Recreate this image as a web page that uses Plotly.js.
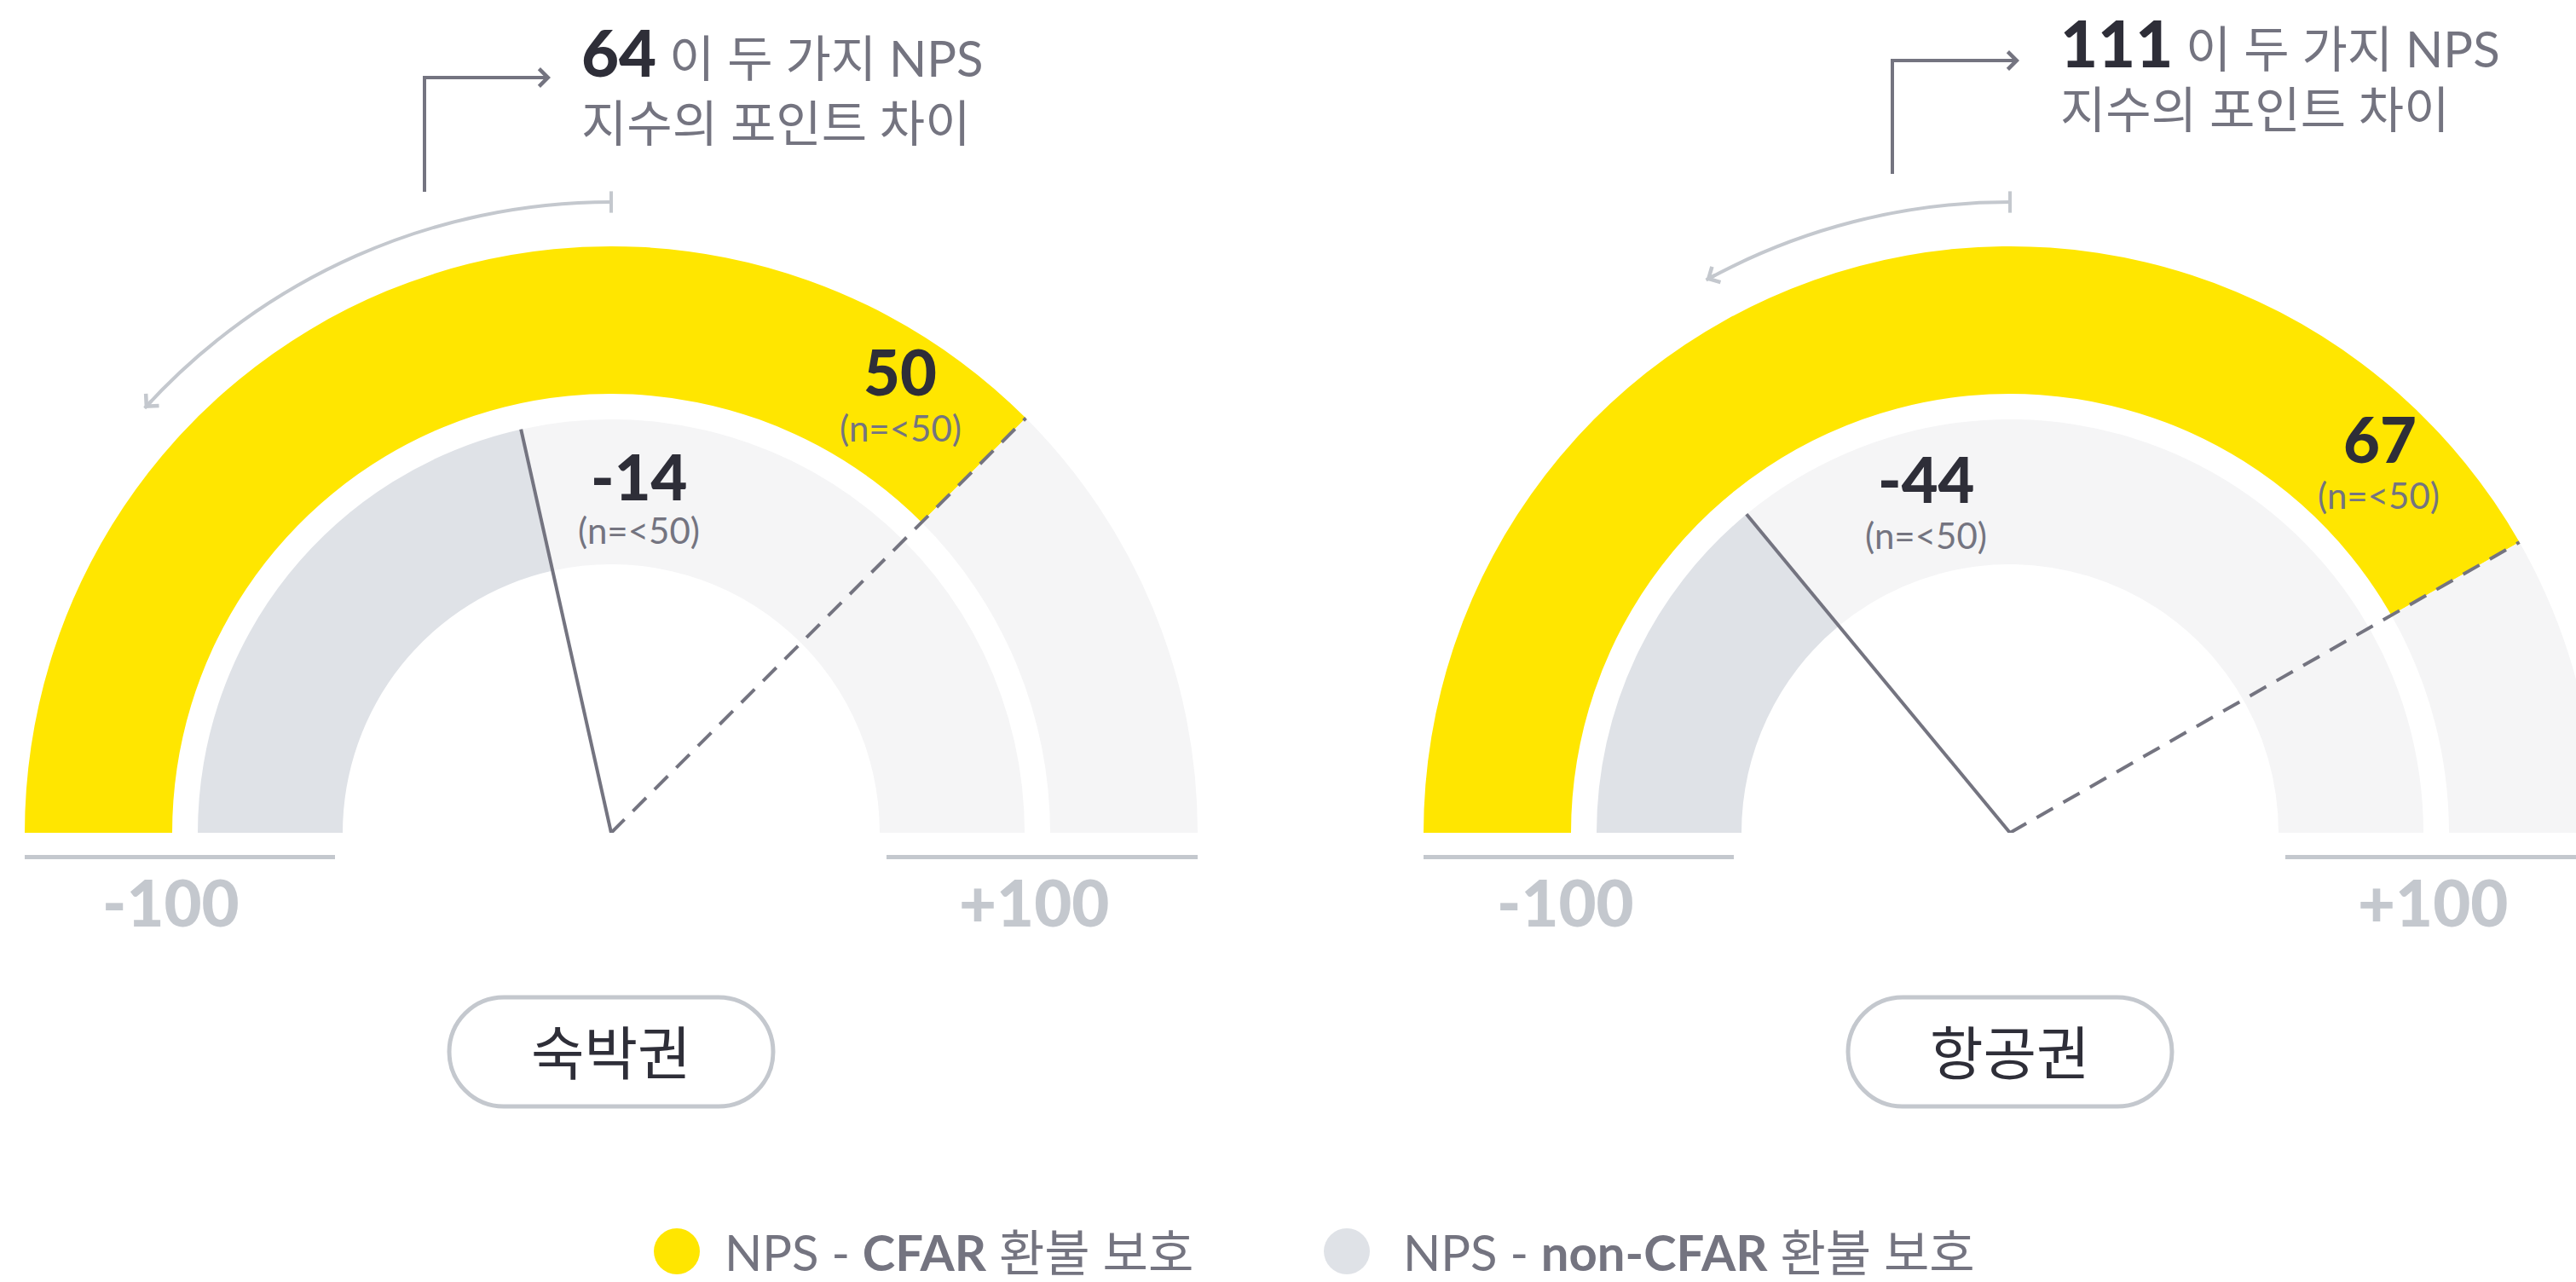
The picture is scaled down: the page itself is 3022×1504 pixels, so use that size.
<!DOCTYPE html>
<html>
<head>
<meta charset="utf-8">
<script src="https://cdn.plot.ly/plotly-3.0.1.min.js"></script>
<style>
  html, body { margin:0; padding:0; overflow:hidden; background:#ffffff; width:3022px; height:1504px; }
  #chart { position:absolute; left:-80px; top:0; width:3210px; height:1504px; }
</style>
</head>
<body>
<div id="chart"></div>
<script>
// ---------------- data ----------------
const categories = ['숙박권', '항공권'];
const npsCfar = [50, 67];            // NPS - CFAR 환불 보호
const npsNonCfar = [-14, -44];       // NPS - non-CFAR 환불 보호
const pointGap = [64, 111];          // 두 NPS 지수의 포인트 차이
const noteCfar = ['(n=<50)', '(n=<50)'];
const noteNonCfar = ['(n=<50)', '(n=<50)'];
const gapArcEnd = [-53, -32];        // end of the decorative gap arrow on the NPS scale
const scaleRange = [-100, 100];
const scaleTickLabels = ['-100', '+100'];
const seriesNames = ['NPS - <b>CFAR</b> 환불 보호', 'NPS - <b>non-CFAR</b> 환불 보호'];
const gapTextLines = ['이 두 가지 NPS', '지수의 포인트 차이'];

// ---------------- styles / geometry ----------------
const W = 3210, H = 1504, OFFX = 80;
const px = x => (x + OFFX) / W;
const py = y => 1 - y / H;
const R = 760;                 // radial axis range in px
const CX = [717, 2358], CY = 977;
const OUT = [515, 688], INN = [315, 485], ARC_R = 740;
const C = {
  yellow: '#FFE600', dark: '#DFE2E7', light: '#F5F5F6',
  tick: '#C4C8CE', txt: '#2E2E38', gray: '#747480'
};
const FONT = 'Lato, "Noto Sans CJK KR", "Noto Sans", sans-serif';
const esc = s => s.replace(/</g, '&lt;');
const deg = v => (v - scaleRange[0]) / (scaleRange[1] - scaleRange[0]) * 180;

const POS = [
  {elbowX: 498, elbowBottom: 225, elbowTop: 91, tipX: 646, textX: 680, line1Y: 61, line2Y: 144,
   labelOuter: [1056, 435], noteOuter: [1056, 502], labelInner: [750, 558], noteInner: [750, 622],
   tickX: [200, 1213]},
  {elbowX: 2220, elbowBottom: 204, elbowTop: 71, tipX: 2369, textX: 2415, line1Y: 50, line2Y: 127,
   labelOuter: [2792, 514], noteOuter: [2790, 581], labelInner: [2259, 561], noteInner: [2259, 628],
   tickX: [1836, 2854]}
];

const traces = [];
const annotations = [];
const shapes = [];
const layout = {
  width: W, height: H,
  margin: {l: 0, r: 0, t: 0, b: 0},
  paper_bgcolor: '#ffffff', plot_bgcolor: '#ffffff',
  showlegend: false, hovermode: false,
  font: {family: FONT, color: C.gray}
};

categories.forEach((cat, i) => {
  const sp = i === 0 ? 'polar' : 'polar2';
  const cx = CX[i];
  const lo = scaleRange[0], hi = scaleRange[1];
  layout[sp] = {
    domain: {x: [px(cx - R), px(cx + R)], y: [py(CY), py(CY - R)]},
    sector: [0, 180], hole: 0, bgcolor: 'rgba(0,0,0,0)', barmode: 'overlay',
    radialaxis: {visible: false, range: [0, R], showgrid: false, showline: false, showticklabels: false, ticks: ''},
    angularaxis: {visible: false, rotation: 180, direction: 'clockwise', thetaunit: 'degrees',
                  showgrid: false, showline: false, showticklabels: false, ticks: ''}
  };
  const segO = [[lo, npsCfar[i]], [npsCfar[i], hi]];
  const segI = [[lo, npsNonCfar[i]], [npsNonCfar[i], hi]];
  const mk = (segs, rr, colors) => ({
    type: 'barpolar', subplot: sp,
    theta: segs.map(s => deg((s[0] + s[1]) / 2)),
    width: segs.map(s => Math.abs(deg(s[1]) - deg(s[0]))),
    base: segs.map(() => rr[0]), r: segs.map(() => rr[1] - rr[0]),
    marker: {color: colors, line: {width: 0}}, hoverinfo: 'skip'
  });
  traces.push(mk(segO, OUT, [C.yellow, C.light]));
  traces.push(mk(segI, INN, [C.dark, C.light]));
  // gap arc
  traces.push(mk([[gapArcEnd[i], 0]], [ARC_R - 2, ARC_R + 2], [C.tick]));
  // arc start tick
  traces.push({type: 'scatterpolar', subplot: sp, mode: 'markers', r: [ARC_R], theta: [deg(0)],
    marker: {symbol: 'line-ns', size: 18, line: {width: 4, color: C.tick}}, cliponaxis: false, hoverinfo: 'skip'});
  // needle (non-CFAR)
  traces.push({type: 'scatterpolar', subplot: sp, mode: 'lines',
    r: [INN[1], 0], theta: [deg(npsNonCfar[i]), deg(npsNonCfar[i])],
    line: {color: C.gray, width: 4}, hoverinfo: 'skip'});
  // dashed (CFAR)
  traces.push({type: 'scatterpolar', subplot: sp, mode: 'lines',
    r: [0, OUT[1]], theta: [deg(npsCfar[i]), deg(npsCfar[i])],
    line: {color: C.gray, width: 4, dash: '22px,14px'}, hoverinfo: 'skip'});

  // arc arrowhead (computed from the arc end value)
  const phi = (180 - deg(gapArcEnd[i])) * Math.PI / 180;
  const ex = cx + ARC_R * Math.cos(phi), ey = CY - ARC_R * Math.sin(phi);
  annotations.push({xref: 'paper', yref: 'paper', x: px(ex), y: py(ey), text: '', showarrow: true,
    ax: Math.sin(phi) * 14, ay: Math.cos(phi) * 14, arrowhead: 4, arrowsize: 1, arrowwidth: 4,
    arrowcolor: C.tick, standoff: 0, startstandoff: 0});

  const p = POS[i];
  // elbow arrow
  shapes.push({type: 'line', xref: 'paper', yref: 'paper', x0: px(p.elbowX), x1: px(p.elbowX),
    y0: py(p.elbowBottom), y1: py(p.elbowTop - 2), line: {color: C.gray, width: 4}});
  annotations.push({xref: 'paper', yref: 'paper', x: px(p.tipX), y: py(p.elbowTop), text: '', showarrow: true,
    ax: p.elbowX - p.tipX, ay: 0, arrowhead: 4, arrowsize: 1, arrowwidth: 4, arrowcolor: C.gray,
    standoff: 0, startstandoff: 0});
  // gap text
  annotations.push({xref: 'paper', yref: 'paper', x: px(p.textX), y: py(p.line1Y), xanchor: 'left', yanchor: 'middle',
    showarrow: false, align: 'left',
    text: `<span style="font-size:76px;font-weight:900;color:${C.txt}">${pointGap[i]}</span> ${gapTextLines[0]}`,
    font: {family: FONT, size: 58, color: C.gray}});
  annotations.push({xref: 'paper', yref: 'paper', x: px(p.textX), y: py(p.line2Y), xanchor: 'left', yanchor: 'middle',
    showarrow: false, align: 'left', text: gapTextLines[1],
    font: {family: FONT, size: 58, color: C.gray}});

  // value labels
  const lab = (xy, text, size, color, weight) => annotations.push({xref: 'paper', yref: 'paper',
    x: px(xy[0]), y: py(xy[1]), xanchor: 'center', yanchor: 'middle', showarrow: false,
    text: text, font: {family: FONT, size: size, color: color, weight: weight}});
  lab(p.labelOuter, String(npsCfar[i]), 74, C.txt, 900);
  lab(p.noteOuter, esc(noteCfar[i]), 42, C.gray, 400);
  lab(p.labelInner, String(npsNonCfar[i]), 74, C.txt, 900);
  lab(p.noteInner, esc(noteNonCfar[i]), 42, C.gray, 400);

  // scale ends: baselines + labels
  shapes.push({type: 'line', xref: 'paper', yref: 'paper', x0: px(cx - OUT[1]), x1: px(cx - 324),
    y0: py(1005.5), y1: py(1005.5), line: {color: C.tick, width: 5}});
  shapes.push({type: 'line', xref: 'paper', yref: 'paper', x0: px(cx + 323), x1: px(cx + OUT[1]),
    y0: py(1005.5), y1: py(1005.5), line: {color: C.tick, width: 5}});
  scaleTickLabels.forEach((t, k) => lab([p.tickX[k], 1057], t, 76, C.tick, 900));

  // category pill
  const hw = 190, hh = 64, k = 0.5523 * hh, s = hw - hh;
  const path = `M${-s},${-hh} L${s},${-hh} C${s + k},${-hh} ${hw},${-k} ${hw},0 C${hw},${k} ${s + k},${hh} ${s},${hh} ` +
               `L${-s},${hh} C${-s - k},${hh} ${-hw},${k} ${-hw},0 C${-hw},${-k} ${-s - k},${-hh} ${-s},${-hh} Z`;
  shapes.push({type: 'path', xref: 'paper', yref: 'paper', xsizemode: 'pixel', ysizemode: 'pixel',
    xanchor: px(cx), yanchor: py(1234), path: path, line: {color: C.tick, width: 5}, fillcolor: 'rgba(0,0,0,0)'});
  lab([cx, 1234], cat, 68, C.txt, 400);
});

// legend
const legendColors = [C.yellow, C.dark];
const legendDotX = [794, 1580], legendTextX = [848, 1644], legendY = 1468;
seriesNames.forEach((name, i) => {
  shapes.push({type: 'circle', xref: 'paper', yref: 'paper', xsizemode: 'pixel', ysizemode: 'pixel',
    xanchor: px(legendDotX[i]), yanchor: py(legendY), x0: -27, x1: 27, y0: -27, y1: 27,
    fillcolor: legendColors[i], line: {width: 0}});
  annotations.push({xref: 'paper', yref: 'paper', x: px(legendTextX[i]), y: py(legendY),
    xanchor: 'left', yanchor: 'middle', showarrow: false, text: name,
    font: {family: FONT, size: 58, color: C.gray}});
});

layout.annotations = annotations;
layout.shapes = shapes;

Plotly.newPlot('chart', traces, layout, {displayModeBar: false, staticPlot: true, responsive: false});
</script>
</body>
</html>
